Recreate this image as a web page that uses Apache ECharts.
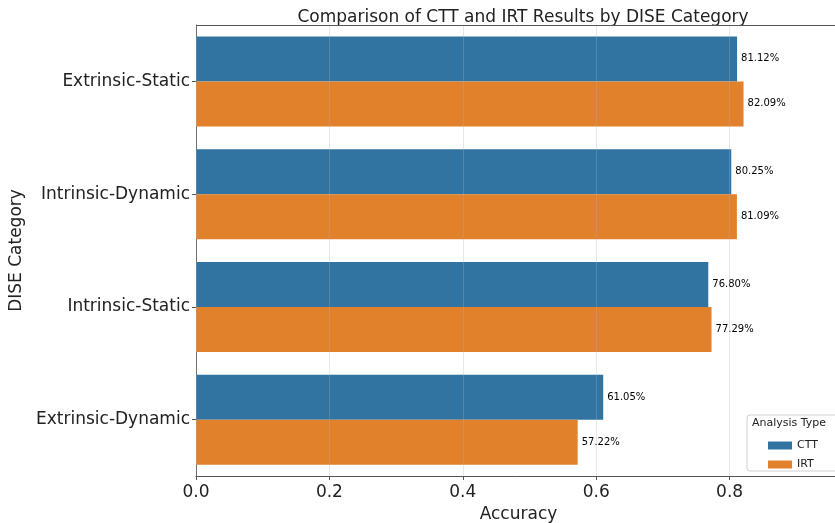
<!DOCTYPE html>
<html><head><meta charset="utf-8">
<script src="https://cdn.jsdelivr.net/npm/echarts@6/dist/echarts.min.js"></script>
<style>html,body{margin:0;padding:0;background:#fff}#c{width:835px;height:523px}</style>
</head><body><div id="c"></div>
<script>
const categories = ["Extrinsic-Static", "Intrinsic-Dynamic", "Intrinsic-Static", "Extrinsic-Dynamic"];
const cttValues = [0.8112, 0.8025, 0.7680, 0.6105];
const irtValues = [0.8209, 0.8109, 0.7729, 0.5722];
const xTicks = [0.0, 0.2, 0.4, 0.6, 0.8];
const F = "DejaVu Sans";
const chart = echarts.init(document.getElementById('c'));
const lbl = {show:true, position:'right', distance:4, fontFamily:F, fontSize:10, color:'#000',
  formatter: p => (p.value*100).toFixed(2) + '%'};
chart.setOption({
  animation:false,
  title:{text:'Comparison of CTT and IRT Results by DISE Category', left:518, textAlign:'center', top:4,
    textStyle:{fontFamily:F, fontSize:17, fontWeight:'normal', color:'#222'}},
  grid:{left:196, right:-6, top:25, bottom:47, outerBoundsMode:'none', containLabel:false},
  xAxis:{type:'value', min:0, max:0.967, interval:0.2, z:5,
    name:'Accuracy', nameLocation:'middle', nameGap:29, nameTextStyle:{fontFamily:F, fontSize:17, color:'#222'},
    axisLine:{show:true, lineStyle:{color:'#555', width:1}},
    axisTick:{show:true, length:4, lineStyle:{color:'#555'}},
    axisLabel:{fontFamily:F, fontSize:17, color:'#222', margin:8, showMaxLabel:false,
      formatter: v => xTicks.includes(+v.toFixed(1)) ? v.toFixed(1) : ''},
    splitLine:{show:true, lineStyle:{color:'rgba(176,176,176,0.3)', width:1}}},
  yAxis:{type:'category', data:categories, inverse:true,
    name:'DISE Category', nameLocation:'middle', nameGap:168, nameRotate:90,
    nameTextStyle:{fontFamily:F, fontSize:17, color:'#222'},
    axisLine:{show:true, lineStyle:{color:'#555', width:1}},
    axisTick:{show:true, alignWithLabel:true, length:4, lineStyle:{color:'#555'}},
    axisLabel:{fontFamily:F, fontSize:17, color:'#222', margin:6},
    splitLine:{show:false}},
  legend:{data:['CTT','IRT'], icon:'rect', orient:'vertical', left:763, top:435, itemWidth:24, itemHeight:8, itemGap:8, z:50,
    textStyle:{fontFamily:F, fontSize:11, color:'#222'}},
  graphic:[
    {type:'rect', shape:{x:747, y:415, width:95, height:56, r:3}, style:{fill:'rgba(255,255,255,0.8)', stroke:'#d0d0d0', lineWidth:1}, z:10},
    {type:'text', left:752, top:418, style:{text:'Analysis Type', fontFamily:F, fontSize:11, fill:'#222'}, z:11},
    {type:'line', shape:{x1:196, y1:25.5, x2:835, y2:25.5}, style:{stroke:'#555', lineWidth:1}, z:11}
  ],
  series:[
    {name:'CTT', type:'bar', data:cttValues, barWidth:45, barGap:'0%', itemStyle:{color:'#3274a1'}, label:lbl},
    {name:'IRT', type:'bar', data:irtValues, barWidth:45, barGap:'0%', itemStyle:{color:'#e1812c'}, label:lbl}
  ]
});
</script></body></html>
